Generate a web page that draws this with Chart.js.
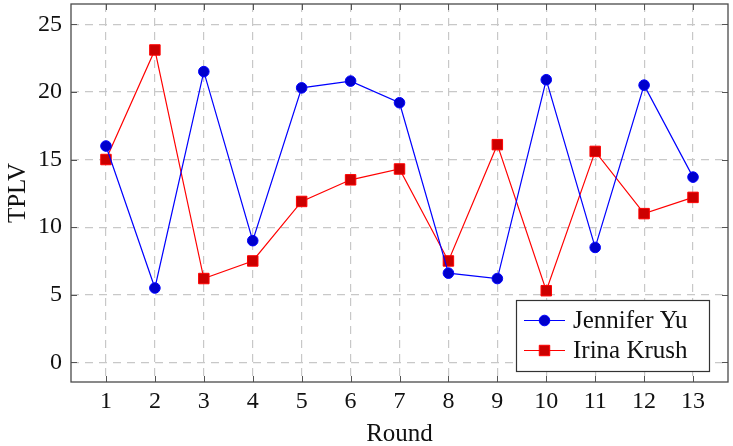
<!DOCTYPE html>
<html>
<head>
<meta charset="utf-8">
<script src="https://cdn.jsdelivr.net/npm/chart.js@4.4.1/dist/chart.umd.min.js"></script>
<style>
  html, body { margin: 0; padding: 0; background: #fff; }
  #wrap { width: 733px; height: 446px; position: relative; }
</style>
</head>
<body>
<div id="wrap"><canvas id="c" width="733" height="446"></canvas></div>
<script>
const rounds = [1, 2, 3, 4, 5, 6, 7, 8, 9, 10, 11, 12, 13];
const jenniferYu = [16.0, 5.5, 21.5, 9.0, 20.3, 20.8, 19.2, 6.6, 6.2, 20.9, 8.5, 20.5, 13.7];
const irinaKrush = [15.0, 23.1, 6.2, 7.5, 11.9, 13.5, 14.3, 7.5, 16.1, 5.3, 15.6, 11.0, 12.2];
const yTicks = [0, 5, 10, 15, 20, 25];
const seriesNames = ['Jennifer Yu', 'Irina Krush'];
const xTitle = 'Round';
const yTitle = 'TPLV';

const FONT = "'Liberation Serif', 'DejaVu Serif', serif";

const toXY = (vals) => vals.map((v, i) => ({ x: rounds[i], y: v }));

const innerTicks = {
  id: 'innerTicks',
  afterDatasetsDraw(chart) {
    const { ctx, chartArea: a, scales: { x, y } } = chart;
    ctx.save();
    ctx.strokeStyle = '#555';
    ctx.lineWidth = 1;
    ctx.beginPath();
    rounds.forEach(r => {
      const px = Math.round(x.getPixelForValue(r)) + 0.5;
      ctx.moveTo(px, a.bottom); ctx.lineTo(px, a.bottom - 6);
      ctx.moveTo(px, a.top); ctx.lineTo(px, a.top + 6);
    });
    yTicks.forEach(t => {
      const py = Math.round(y.getPixelForValue(t)) + 0.5;
      ctx.moveTo(a.left, py); ctx.lineTo(a.left + 6, py);
      ctx.moveTo(a.right, py); ctx.lineTo(a.right - 6, py);
    });
    ctx.stroke();
    ctx.strokeStyle = '#4a4a4a';
    ctx.lineWidth = 1.3;
    ctx.strokeRect(a.left, a.top, a.right - a.left, a.bottom - a.top);
    ctx.restore();
  }
};

const boxLegend = {
  id: 'boxLegend',
  afterDraw(chart) {
    const { ctx } = chart;
    const bx = 516, by = 300, bw = 193, bh = 71;
    ctx.save();
    ctx.fillStyle = '#fff';
    ctx.fillRect(bx, by, bw, bh);
    ctx.strokeStyle = '#333';
    ctx.lineWidth = 1.2;
    ctx.strokeRect(bx + 0.5, by + 0.5, bw, bh);
    const rows = [320.5, 350.5];
    chart.data.datasets.forEach((ds, i) => {
      const yy = rows[i];
      ctx.strokeStyle = ds.borderColor;
      ctx.lineWidth = 1.2;
      ctx.beginPath();
      ctx.moveTo(524, yy); ctx.lineTo(565, yy);
      ctx.stroke();
      ctx.fillStyle = ds.pointBackgroundColor;
      ctx.strokeStyle = ds.pointBorderColor;
      ctx.lineWidth = 1;
      ctx.beginPath();
      if (ds.pointStyle === 'circle') {
        ctx.arc(544.5, yy, ds.pointRadius, 0, Math.PI * 2);
      } else {
        const s = ds.pointRadius * Math.SQRT1_2;
        ctx.rect(544.5 - s, yy - s, 2 * s, 2 * s);
      }
      ctx.fill(); ctx.stroke();
      ctx.fillStyle = '#111';
      ctx.font = '25px ' + FONT;
      ctx.textBaseline = 'middle';
      ctx.textAlign = 'left';
      ctx.fillText(ds.label, 573, yy + 1);
    });
    ctx.restore();
  }
};

new Chart(document.getElementById('c'), {
  type: 'line',
  data: {
    datasets: [
      {
        label: seriesNames[0],
        data: toXY(jenniferYu),
        borderColor: '#0000ff',
        borderWidth: 1.2,
        pointStyle: 'circle',
        pointRadius: 5.3,
        pointBackgroundColor: '#0000cc',
        pointBorderColor: '#0000ff',
        pointBorderWidth: 1,
        tension: 0
      },
      {
        label: seriesNames[1],
        data: toXY(irinaKrush),
        borderColor: '#ff0000',
        borderWidth: 1.2,
        pointStyle: 'rect',
        pointRadius: 7.4,
        pointBackgroundColor: '#cc0000',
        pointBorderColor: '#ff0000',
        pointBorderWidth: 1,
        tension: 0
      }
    ]
  },
  options: {
    responsive: false,
    animation: false,
    devicePixelRatio: 1,
    layout: { autoPadding: false, padding: { top: 4, right: 5, left: 0, bottom: 0 } },
    plugins: { legend: { display: false }, tooltip: { enabled: false } },
    scales: {
      x: {
        type: 'linear',
        min: 0.285,
        max: 13.715,
        afterBuildTicks(scale) { scale.ticks = rounds.map(v => ({ value: v })); },
        afterFit(scale) {
          scale.height = 64;
          scale.paddingLeft = 0; scale.paddingRight = 0;
          scale.paddingTop = 0; scale.paddingBottom = 0;
        },
        border: { display: false, dash: [8, 6] },
        grid: { color: '#c8c8c8', lineWidth: 1.2, drawTicks: false },
        ticks: {
          color: '#111', padding: 5, maxRotation: 0, autoSkip: false,
          font: { family: FONT, size: 24 },
          callback: (v) => String(v)
        },
        title: {
          display: true, text: xTitle, color: '#111', padding: { top: 5, bottom: -3 },
          font: { family: FONT, size: 25 }
        }
      },
      y: {
        type: 'linear',
        min: -1.45,
        max: 26.5,
        afterBuildTicks(scale) { scale.ticks = yTicks.map(v => ({ value: v })); },
        afterFit(scale) {
          scale.width = 71;
          scale.paddingLeft = 0; scale.paddingRight = 0;
          scale.paddingTop = 0; scale.paddingBottom = 0;
        },
        border: { display: false, dash: [8, 6] },
        grid: { color: '#c8c8c8', lineWidth: 1.2, drawTicks: false },
        ticks: {
          color: '#111', padding: 9,
          font: { family: FONT, size: 24 },
          callback: (v) => String(v)
        },
        title: {
          display: true, text: yTitle, color: '#111', padding: { top: 3, bottom: 0 },
          font: { family: FONT, size: 25 }
        }
      }
    }
  },
  plugins: [innerTicks, boxLegend]
});
</script>
</body>
</html>
